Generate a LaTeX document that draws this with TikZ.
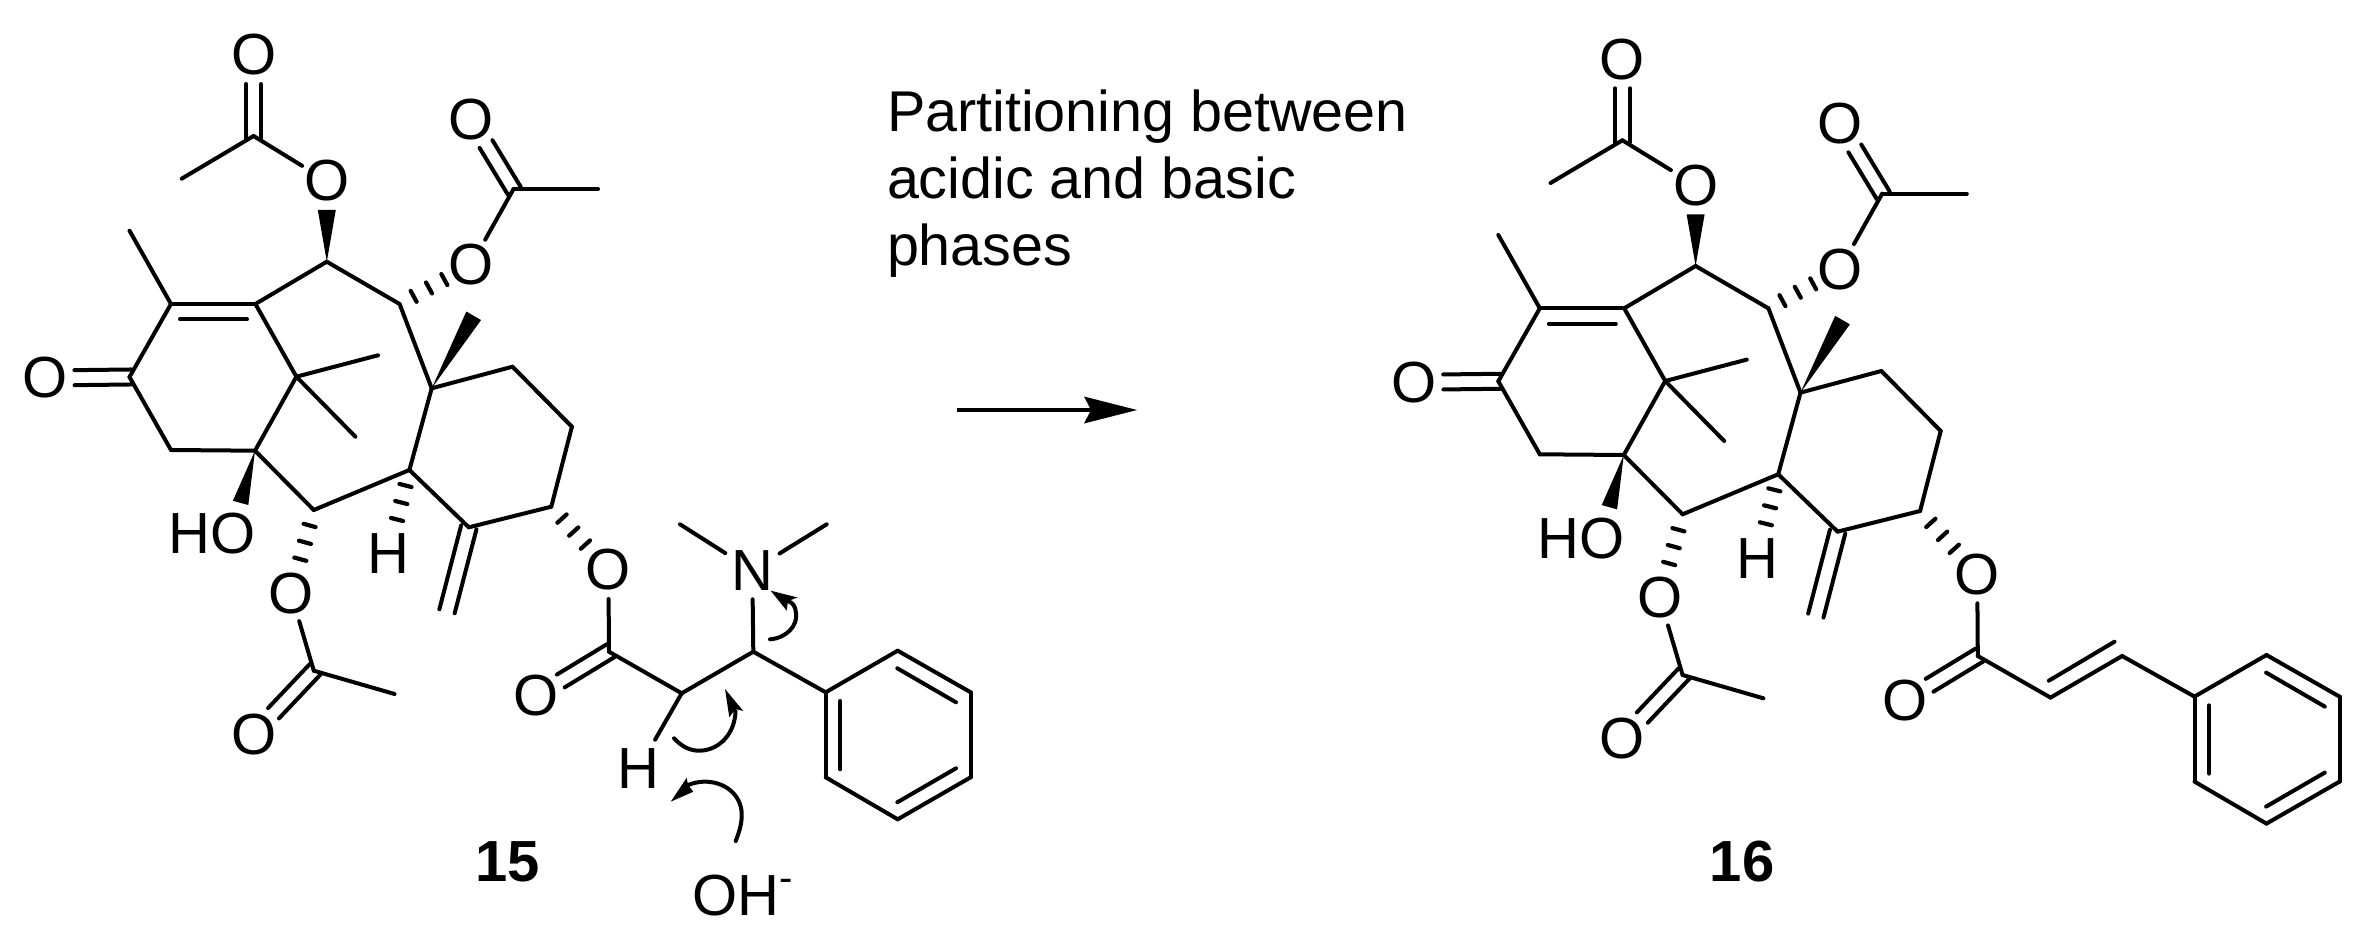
\documentclass[tikz,border=0pt]{standalone}
\usepackage{fontspec}
\setmainfont{Liberation Sans}
\usetikzlibrary{calc}
\tikzset{
  bond/.style={line width=4pt,line cap=round,line join=round,draw=black},
  arrowline/.style={line width=4pt,line cap=round,draw=black,fill=none},
  hashmark/.style={line width=4.2pt,line cap=round,draw=black},
  atom/.style={inner sep=0pt,outer sep=0pt,font=\fontsize{58}{67}\selectfont},
  label/.style={inner sep=0pt,outer sep=0pt,font=\fontsize{58}{67}\selectfont\bfseries},
  caption/.style={inner sep=0pt,outer sep=0pt,align=left,font=\fontsize{57.5}{67}\selectfont},
}
\newcommand{\bondpath}[1]{\foreach \aa/\bb in {#1}{\draw[bond] (\aa) -- (\bb);}}
\newcommand{\hetbond}[2]{\draw[bond,shorten >=29pt] (#1) -- (#2.center);}
\newcommand{\cobond}[2]{%
  \draw[bond,shorten >=29pt,shorten <=-2pt] ($(#1)!7.5pt!90:(#2.center)$) -- ($(#2.center)!7.5pt!-90:(#1)$);
  \draw[bond,shorten >=29pt,shorten <=-2pt] ($(#1)!7.5pt!-90:(#2.center)$) -- ($(#2.center)!7.5pt!90:(#1)$);}
\newcommand{\twolines}[2]{%
  \draw[bond] ($(#1)!7.9pt!90:(#2)$) -- ($(#2)!7.9pt!-90:(#1)$);
  \draw[bond] ($(#1)!7.9pt!-90:(#2)$) -- ($(#2)!7.9pt!90:(#1)$);}
\newcommand{\wedgebond}[3]{\fill[black] (#1) -- ($(#2)!#3!90:(#1)$) -- ($(#2)!#3!-90:(#1)$) -- cycle;}
\newcommand{\hashbond}[2]{\foreach \dd in {16,33.5,51}{%
  \draw[hashmark] ($(#1)!\dd pt!(#2.center)!6.2pt!90:(#2.center)$) -- ($(#1)!\dd pt!(#2.center)!6.2pt!-90:(#2.center)$);}}
\newcommand{\taxane}[2]{%
\begin{scope}[shift={(#1)},name prefix=#2-]
  % skeleton atoms
  \coordinate (c1) at (326.8,261.7);
  \coordinate (c2) at (255.4,304);
  \coordinate (c3) at (171,304);
  \coordinate (c4) at (129.5,377);
  \coordinate (c5) at (171,450);
  \coordinate (c6) at (255,450.7);
  \coordinate (c7) at (296.4,376.7);
  \coordinate (c8) at (313.8,510);
  \coordinate (c9) at (409.4,470);
  \coordinate (c10) at (431.7,388.3);
  \coordinate (c11) at (399.6,304);
  \coordinate (c12) at (512.5,366.7);
  \coordinate (c13) at (571.9,426.7);
  \coordinate (c14) at (551.3,506.7);
  \coordinate (c15) at (468.8,527.3);
  \coordinate (m3) at (129.5,230.7);
  \coordinate (m7a) at (378,355.3);
  \coordinate (m7b) at (355.4,436.7);
  \coordinate (in1) at (180,319.3);
  \coordinate (in2) at (247,319.3);
  \coordinate (exo) at (447,611.3);
  \coordinate (w1) at (326.8,210);
  \coordinate (w2) at (473.7,315.8);
  \coordinate (w3) at (240.6,502.9);
  % acetates
  \coordinate (ac1) at (253.6,136);
  \coordinate (ac1m) at (181.7,178.7);
  \coordinate (ac2) at (513.4,189.3);
  \coordinate (ac2m) at (598,189.3);
  \coordinate (ac3) at (313.8,670.7);
  \coordinate (ac3m) at (394.6,694);
  \node[atom] (o1) at (253.6,55) {O};
  \node[atom] (o1s) at (326.8,181) {O};
  \node[atom] (o2) at (471,119.3) {O};
  \node[atom] (o2s) at (471,265) {O};
  \node[atom] (o3) at (253.6,734.3) {O};
  \node[atom] (o3s) at (291,593.3) {O};
  \node[atom] (ok) at (45.5,378) {O};
  \node[atom] (oh) at (212,534) {HO};
  \node[atom] (hh) at (388.4,554) {H};
  % ester side chain
  \node[atom] (oe) at (608.4,570) {O};
  \node[atom] (oc) at (536,696) {O};
  \coordinate (ce) at (609,651.7);
  \coordinate (ca) at (681.7,693.3);
  \coordinate (cb) at (753.3,651.7);
  % phenyl
  \coordinate (p1) at (825.7,692.3);
  \coordinate (p2) at (897.7,650.7);
  \coordinate (p3) at (970.7,692.3);
  \coordinate (p4) at (970.7,777.3);
  \coordinate (p5) at (897.7,819.3);
  \coordinate (p6) at (825.7,777.3);
  \coordinate (q1) at (840.3,701);
  \coordinate (q2) at (840.3,769.3);
  \coordinate (q3) at (897.3,668.3);
  \coordinate (q4) at (956,702.3);
  \coordinate (q5) at (897.3,802.3);
  \coordinate (q6) at (956,768.3);
  % bonds
  \bondpath{c1/c2,c2/c3,c3/c4,c4/c5,c5/c6,c6/c7,c7/c2,c7/m7a,c7/m7b,c3/m3,c6/c8,c8/c9,c9/c10,c10/c11,c11/c1,c10/c12,c12/c13,c13/c14,c14/c15,c15/c9,in1/in2}
  \twolines{c15}{exo}
  \bondpath{ac1/ac1m,ac2/ac2m,ac3/ac3m,ce/ca,ca/cb,cb/p1,p1/p2,p2/p3,p3/p4,p4/p5,p5/p6,p6/p1,q1/q2,q3/q4,q5/q6}
  \hetbond{ac1}{o1s}
  \hetbond{ac2}{o2s}
  \hetbond{ac3}{o3s}
  \hetbond{ce}{oe}
  \cobond{ac1}{o1}
  \cobond{ac2}{o2}
  \cobond{ac3}{o3}
  \cobond{ce}{oc}
  \cobond{c4}{ok}
  \wedgebond{c1}{w1}{9pt}
  \wedgebond{c10}{w2}{8.5pt}
  \wedgebond{c6}{w3}{8pt}
  \hashbond{c11}{o2s}
  \hashbond{c8}{o3s}
  \hashbond{c9}{hh}
  \hashbond{c14}{oe}
\end{scope}}
\begin{document}
\begin{tikzpicture}[x=1pt,y=-1pt]
\useasboundingbox (0,0) rectangle (2371,941);
\taxane{0,0}{a}
\taxane{1368.8,4.3}{b}
% compound 15: amine, alpha hydrogen and base
\node[atom] (n) at (752.3,570.3) {N};
\node[atom] (ha) at (638.7,768.3) {H};
\node[atom,anchor=base west] (ohm) at (692,915) {OH\raisebox{24pt}{\fontsize{40}{40}\selectfont -}};
\coordinate (nm1) at (680,524.3);
\coordinate (nm2) at (826.7,524.3);
\draw[bond,shorten <=32pt] (n.center) -- (nm1);
\draw[bond,shorten <=32pt] (n.center) -- (nm2);
\draw[bond,shorten >=29pt] (a-cb) -- (n.center);
\draw[bond,shorten >=33pt] (a-ca) -- (ha.center);
% curved arrows
\coordinate (t1) at (770.7,590.7);
\coordinate (t2) at (725,689);
\coordinate (t3) at (670.7,801.7);
\draw[arrowline] (770,639.3) .. controls (787,638) and (798,625) .. (796,613) .. controls (795.5,606) and (793,603) .. (788,601);
\fill[black] (t1) -- (797.5,597.5) -- (788,601) -- (786.7,610.7) -- cycle;
\draw[arrowline] (674,738.3) .. controls (683,748) and (692,751) .. (700,750.7) .. controls (720,750) and (735,733) .. (735.5,711);
\fill[black] (t2) -- (743.3,711) -- (735.5,709) -- (729.3,717.3) -- cycle;
\draw[arrowline] (735.7,841) .. controls (740,830) and (742,822) .. (741.7,813.3) .. controls (741,795) and (725,781) .. (703.3,781.7) .. controls (698,782) and (693,783) .. (688,785);
\fill[black] (t3) -- (686.7,777.7) -- (688,785) -- (693.3,791.7) -- cycle;
% compound 16: cinnamate double bond
\coordinate (d1) at (2048.8,680.7);
\coordinate (d2) at (2114.5,641.7);
\draw[bond] (d1) -- (d2);
% labels
\node[label] (l15) at (508,861.5) {15};
\node[label] (l16) at (1742,861.5) {16};
% reaction arrow and conditions
\node[caption,anchor=north west] (cond) at (887,90) {Partitioning between\\acidic and basic\\phases};
\coordinate (r1) at (957.4,410);
\coordinate (r2) at (1137,410);
\draw[line width=4pt,draw=black] (r1) -- (1092,410);
\fill[black] (r2) -- (1084,396.5) -- (1091,410) -- (1084,423.5) -- cycle;
\end{tikzpicture}
\end{document}
